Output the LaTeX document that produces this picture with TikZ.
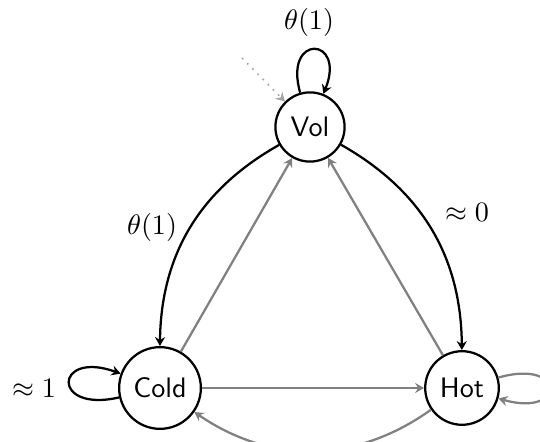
\documentclass[tikz,border=0pt]{standalone}
\usetikzlibrary{arrows.meta}
\begin{document}
\begin{tikzpicture}[x=0.355pt,y=0.355pt,
  >={Stealth[length=3.2pt,width=3.6pt,inset=1.1pt]},
  st/.style={circle,draw,thick,inner sep=3.33pt,font=\sffamily},
  blk/.style={->,thick},
  gry/.style={->,thick,gray},
  lbl/.style={inner sep=0pt}]
\useasboundingbox (0,0) rectangle (540,442);
\node[st] (vol) at (310,315) {Vol};
\node[st] (cold) at (160,54) {Cold};
\node[st] (hot) at (462,54) {Hot};
\coordinate (init) at (242,384);
\draw[->,dotted,gray!70,semithick] (init) -- (vol);
% loops
\draw[blk] (vol) to[out=106,in=68,distance=22pt] (vol);
\node[lbl] (lvol) at (309,420) {$\theta(1)$};
\draw[blk] (cold) to[out=193,in=160,distance=25pt] (cold);
\node[lbl] (lcold) at (34,54) {$\approx 1$};
\draw[gry] (hot) to[out=16,in=-16,distance=25pt] (hot);
% black curved
\draw[blk] (vol) to[bend right=30] (cold);
\node[lbl] (lvc) at (152,215) {$\theta(1)$};
\draw[blk] (vol) to[bend left=30] (hot);
\node[lbl] (lvh) at (467,230) {$\approx 0$};
% gray
\draw[gry] (cold) -- (vol);
\draw[gry] (hot) -- (vol);
\draw[gry] (cold) -- (hot);
\draw[gry] (hot) to[bend left=35] (cold);
\end{tikzpicture}
\end{document}
